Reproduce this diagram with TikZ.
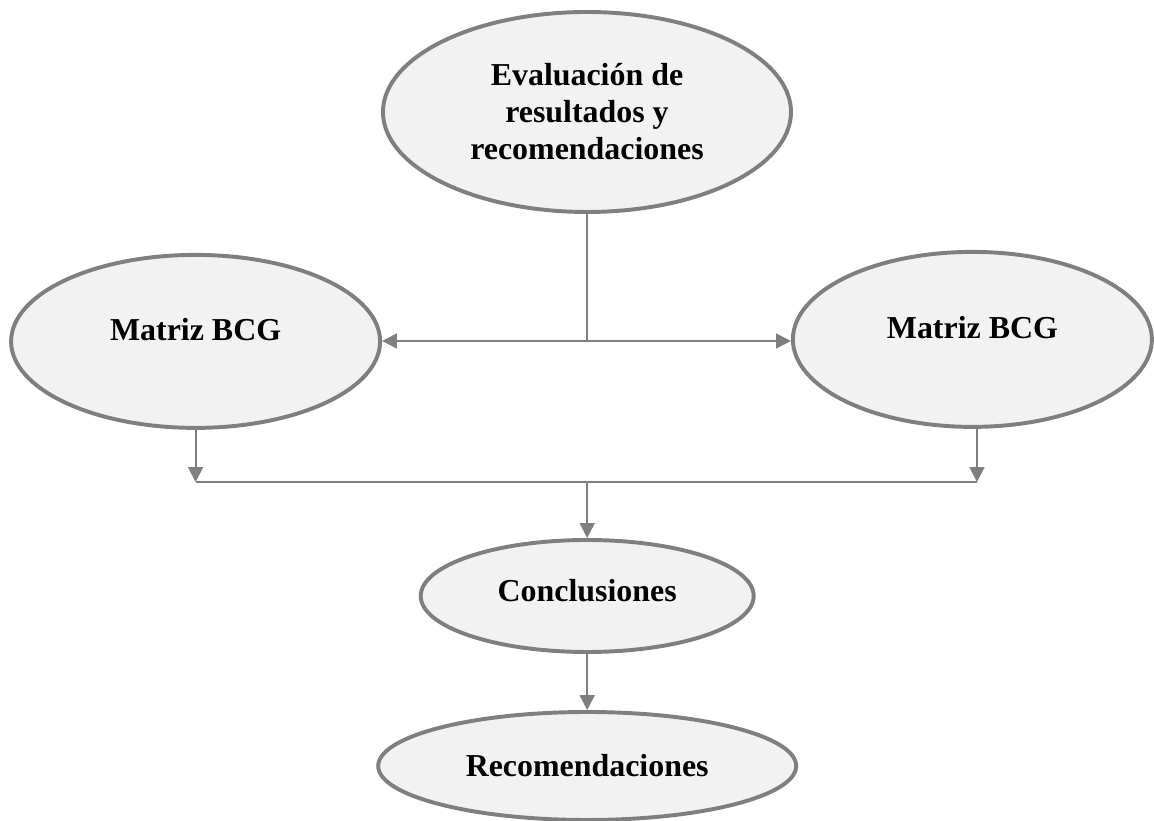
\documentclass[tikz,border=0pt]{standalone}
\usepackage{fontspec}
\setmainfont{Liberation Serif}
\usetikzlibrary{shapes.geometric,arrows.meta}

\definecolor{rimgray}{HTML}{7F7F7F}
\definecolor{fillgray}{HTML}{F2F2F2}

\begin{document}
\begin{tikzpicture}[
  oval/.style={ellipse,draw=rimgray,fill=fillgray,line width=2.8pt,inner sep=0pt,
    align=center,font=\fontsize{22.7}{26.3}\selectfont\bfseries},
  conn/.style={draw=rimgray,line width=1.4pt},
  arr/.style={conn,-{Triangle[length=0.37cm,width=0.37cm]}}]
\useasboundingbox (0,0) rectangle (28.85,20.525);
\node[oval,minimum width=10.2cm,minimum height=5cm](eval) at (14.675,17.725)
  {Evaluación de\\resultados y\\recomendaciones};
\node[oval,minimum width=9.225cm,minimum height=4.325cm,text depth=0.58cm](bcgA) at (4.89,11.99){Matriz BCG};
\node[oval,minimum width=8.975cm,minimum height=4.375cm,text depth=0.6cm](bcgB) at (24.31,12.04){Matriz BCG};
\node[oval,minimum width=8.325cm,minimum height=2.8cm,text depth=0.3cm](conc) at (14.68,5.625){Conclusiones};
\node[oval,minimum width=10.45cm,minimum height=2.7cm](recom) at (14.68,1.375){Recomendaciones};
\coordinate(split) at (14.675,12.0);
\coordinate(joinA) at (4.89,8.475);
\coordinate(joinB) at (24.425,8.475);
\draw[conn](eval.south)--(split);
\draw[arr](split)--(split-|bcgA.east);
\draw[arr](split)--(split-|bcgB.west);
\draw[arr](bcgA.south)--(joinA);
\draw[arr](bcgB.south-|joinB)--(joinB);
\draw[conn](joinA)--(joinB);
\draw[arr](conc.north|-joinA)--(conc.north);
\draw[arr](conc.south)--(recom.north);
\end{tikzpicture}
\end{document}
